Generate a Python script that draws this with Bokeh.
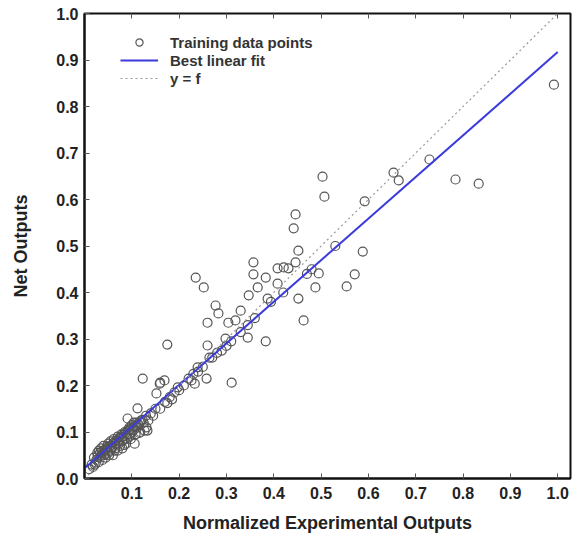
from bokeh.plotting import figure
from bokeh.models import Range1d, FixedTicker, LinearAxis, Legend, LegendItem, PrintfTickFormatter
from bokeh.embed import file_html
from bokeh.resources import INLINE

# ---- data ----
# scattered points (experimental vs network output)
exp_outer = [0.992, 0.833, 0.784, 0.729, 0.653, 0.664, 0.592, 0.588, 0.571, 0.554,
             0.503, 0.507, 0.446, 0.442, 0.452, 0.495, 0.488, 0.452, 0.463, 0.421,
             0.408, 0.431, 0.446, 0.357, 0.357, 0.383, 0.366, 0.235, 0.252, 0.347,
             0.387, 0.277, 0.283, 0.260, 0.304, 0.330, 0.319, 0.345, 0.383, 0.298,
             0.260, 0.175, 0.408, 0.123, 0.258, 0.169, 0.311, 0.160, 0.226, 0.239,
             0.264, 0.233, 0.197, 0.159, 0.152, 0.394, 0.420, 0.470, 0.480, 0.530]
net_outer = [0.847, 0.634, 0.643, 0.686, 0.658, 0.641, 0.596, 0.488, 0.439, 0.413,
             0.649, 0.606, 0.568, 0.538, 0.490, 0.441, 0.411, 0.387, 0.340, 0.454,
             0.452, 0.452, 0.465, 0.465, 0.439, 0.432, 0.411, 0.432, 0.411, 0.394,
             0.387, 0.372, 0.355, 0.335, 0.335, 0.361, 0.340, 0.303, 0.295, 0.301,
             0.286, 0.288, 0.419, 0.215, 0.215, 0.211, 0.206, 0.206, 0.211, 0.239,
             0.260, 0.204, 0.196, 0.204, 0.183, 0.380, 0.400, 0.440, 0.450, 0.500]

exp_cluster = [0.010, 0.015, 0.018, 0.020, 0.022, 0.025, 0.027, 0.030, 0.030, 0.032,
               0.035, 0.035, 0.038, 0.040, 0.040, 0.042, 0.045, 0.045, 0.048, 0.050,
               0.050, 0.052, 0.055, 0.055, 0.058, 0.060, 0.060, 0.062, 0.065, 0.065,
               0.068, 0.070, 0.070, 0.072, 0.075, 0.075, 0.078, 0.080, 0.080, 0.082,
               0.085, 0.085, 0.088, 0.090, 0.090, 0.092, 0.095, 0.095, 0.098, 0.100,
               0.100, 0.105, 0.108, 0.110, 0.112, 0.115, 0.118, 0.120, 0.125, 0.130,
               0.135, 0.140, 0.145, 0.150, 0.112, 0.091, 0.131, 0.133, 0.106, 0.127,
               0.170, 0.180, 0.190, 0.210, 0.220, 0.250, 0.270, 0.290, 0.310, 0.330,
               0.028, 0.033, 0.037, 0.043, 0.047, 0.053, 0.057, 0.063, 0.067, 0.073,
               0.077, 0.083, 0.087, 0.093, 0.097, 0.103, 0.107, 0.113, 0.117, 0.123,
               0.024, 0.036, 0.044, 0.056, 0.064, 0.076, 0.084, 0.096, 0.104, 0.116,
               0.160, 0.175, 0.185, 0.200, 0.230, 0.240, 0.280, 0.300, 0.345, 0.360]
net_cluster = [0.020, 0.030, 0.025, 0.045, 0.030, 0.040, 0.055, 0.035, 0.060, 0.045,
               0.050, 0.065, 0.040, 0.055, 0.070, 0.050, 0.060, 0.045, 0.065, 0.055,
               0.075, 0.050, 0.060, 0.080, 0.065, 0.070, 0.050, 0.085, 0.065, 0.075,
               0.080, 0.060, 0.090, 0.075, 0.085, 0.070, 0.095, 0.080, 0.065, 0.090,
               0.085, 0.100, 0.075, 0.095, 0.085, 0.105, 0.090, 0.110, 0.085, 0.100,
               0.115, 0.105, 0.095, 0.120, 0.110, 0.115, 0.100, 0.125, 0.120, 0.135,
               0.125, 0.140, 0.135, 0.150, 0.151, 0.129, 0.110, 0.103, 0.075, 0.103,
               0.165, 0.175, 0.185, 0.200, 0.215, 0.240, 0.260, 0.275, 0.295, 0.315,
               0.050, 0.055, 0.058, 0.062, 0.068, 0.070, 0.072, 0.078, 0.082, 0.086,
               0.090, 0.094, 0.098, 0.102, 0.106, 0.110, 0.112, 0.118, 0.122, 0.126,
               0.035, 0.048, 0.052, 0.066, 0.060, 0.088, 0.072, 0.095, 0.120, 0.098,
               0.150, 0.162, 0.170, 0.190, 0.225, 0.230, 0.270, 0.285, 0.330, 0.345]

fit_slope = 0.895
fit_intercept = 0.022
line_x = [0.0, 1.0]

x_ticks = [0.1, 0.2, 0.3, 0.4, 0.5, 0.6, 0.7, 0.8, 0.9, 1.0]
y_ticks = [0.0, 0.1, 0.2, 0.3, 0.4, 0.5, 0.6, 0.7, 0.8, 0.9, 1.0]

exp_all = exp_outer + exp_cluster
net_all = net_outer + net_cluster
fit_y = [fit_slope * v + fit_intercept for v in line_x]

FONT = "Liberation Sans"

p = figure(width=575, height=543, output_backend="svg", toolbar_location=None,
           x_range=Range1d(0, 1.027), y_range=Range1d(0, 1.0),
           min_border_left=84, min_border_right=5, min_border_top=13, min_border_bottom=65)
p.grid.visible = False
p.background_fill_color = "white"
p.border_fill_color = "white"
p.outline_line_color = "#111111"
p.outline_line_width = 2

r_pts = p.scatter(exp_all, net_all, marker="circle", size=9, fill_color=None,
                  line_color="#555555", line_width=1.2)
r_fit = p.line(line_x, fit_y, line_color="#3b3bdc", line_width=2)
r_ref = p.line(line_x, line_x, line_color="#9a9a9a", line_width=1.2, line_dash="2 3")

for ax in (p.xaxis[0], p.yaxis[0]):
    ax.major_tick_in = 5
    ax.major_tick_out = 0
    ax.minor_tick_in = 0
    ax.minor_tick_out = 0
    ax.axis_line_color = "#111111"
    ax.axis_line_width = 2
    ax.major_tick_line_color = "#555555"
    ax.major_label_text_font = FONT
    ax.major_label_text_font_style = "bold"
    ax.major_label_text_font_size = "16px"
    ax.major_label_text_color = "#222222"
    ax.axis_label_text_font = FONT
    ax.axis_label_text_font_style = "bold"
    ax.axis_label_text_font_size = "18px"
    ax.axis_label_text_color = "#222222"
    ax.formatter = PrintfTickFormatter(format="%.1f")

p.xaxis[0].ticker = FixedTicker(ticks=x_ticks)
p.yaxis[0].ticker = FixedTicker(ticks=y_ticks)
p.xaxis[0].axis_label = "Normalized Experimental Outputs"
p.yaxis[0].axis_label = "Net Outputs"
p.xaxis[0].major_label_standoff = 8
p.yaxis[0].major_label_standoff = 6
p.xaxis[0].axis_label_standoff = 11
p.yaxis[0].axis_label_standoff = 22

top_ax = LinearAxis(ticker=FixedTicker(ticks=x_ticks), major_label_text_font_size="0px",
                    major_tick_in=5, major_tick_out=0, minor_tick_in=0, minor_tick_out=0,
                    axis_line_color=None, major_tick_line_color="#555555")
top_ax.major_label_text_color = None
p.add_layout(top_ax, "above")

legend = Legend(items=[LegendItem(label="Training data points", renderers=[r_pts]),
                       LegendItem(label="Best linear fit", renderers=[r_fit]),
                       LegendItem(label="y = f", renderers=[r_ref])],
                location=(36, 391), padding=0, margin=0, spacing=0,
                glyph_width=38, glyph_height=18, label_height=18, label_standoff=12,
                border_line_color=None, background_fill_alpha=0,
                label_text_font=FONT, label_text_font_size="15px",
                label_text_font_style="bold", label_text_color="#333333")
p.add_layout(legend, "center")

open("out.html", "w").write(file_html(p, INLINE))
